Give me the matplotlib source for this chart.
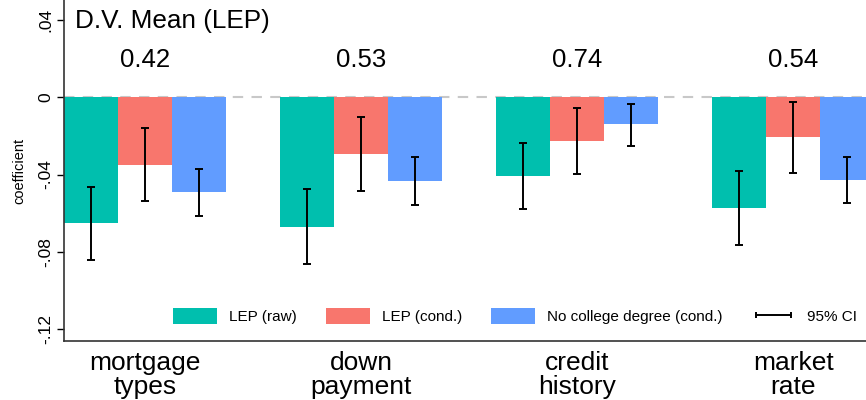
import matplotlib.pyplot as plt
from matplotlib.lines import Line2D
from matplotlib.patches import Patch
import numpy as np

plt.rcParams['font.family'] = ['Liberation Sans', 'DejaVu Sans']

# outcomes and series
outcomes = ['mortgage\ntypes', 'down\npayment', 'credit\nhistory', 'market\nrate']
dv_means = ['0.42', '0.53', '0.74', '0.54']
series = ['LEP (raw)', 'LEP (cond.)', 'No college degree (cond.)']
colors = ['#00BFAE', '#F8766D', '#619CFF']

# point estimates
lep_raw = [-0.0649, -0.0670, -0.0407, -0.0573]
lep_cond = [-0.0348, -0.0293, -0.0225, -0.0206]
nocollege_cond = [-0.0488, -0.0431, -0.0139, -0.0428]

# 95% CI bounds
lep_raw_lo = [-0.0842, -0.0862, -0.0578, -0.0765]
lep_raw_hi = [-0.0462, -0.0476, -0.0234, -0.0381]
lep_cond_lo = [-0.0535, -0.0483, -0.0395, -0.0390]
lep_cond_hi = [-0.0161, -0.0104, -0.0057, -0.0023]
nocollege_lo = [-0.0613, -0.0557, -0.0251, -0.0549]
nocollege_hi = [-0.0369, -0.0310, -0.0033, -0.0308]

coefs = [lep_raw, lep_cond, nocollege_cond]
los = [lep_raw_lo, lep_cond_lo, nocollege_lo]
his = [lep_raw_hi, lep_cond_hi, nocollege_hi]

fig = plt.figure(figsize=(8.66, 4.0), dpi=100)
ax = fig.add_axes([0.0739, 0.1475, 0.9261, 0.8525])

groups = np.arange(len(outcomes)) * 4
ax.axhline(0, color='#c8c8c8', lw=1.5, ls=(0, (5, 4)), zorder=0)

for j in range(3):
    x = groups + 0.5 + j
    ax.bar(x, coefs[j], width=1.0, color=colors[j], zorder=2)
    lo = np.array(los[j])
    hi = np.array(his[j])
    mid = (lo + hi) / 2
    ax.errorbar(x, mid, yerr=(hi - lo) / 2, fmt='none', ecolor='black',
                elinewidth=1.4, capsize=2.8, capthick=1.4, zorder=3)

for g, m in zip(groups, dv_means):
    ax.text(g + 1.5, 0.0192, m, ha='center', va='center', fontsize=18.5)

ax.text(0.2, 0.0395, 'D.V. Mean (LEP)', ha='left', va='center', fontsize=18.8)

ax.set_xlim(0, 14.85)
ax.set_ylim(-0.1262, 0.0504)
ax.set_xticks(groups + 1.5)
ax.set_xticklabels(outcomes, fontsize=19, linespacing=1.0)
ax.tick_params(axis='x', length=0, pad=7)

yt = [0.04, 0, -0.04, -0.08, -0.12]
ax.set_yticks(yt)
ax.set_yticklabels(['.04', '0', '-.04', '-.08', '-.12'], rotation=90,
                   va='center', fontsize=12.5)
ax.tick_params(axis='y', length=5, width=1, pad=3)
ax.set_ylabel('coefficient', fontsize=10.5, labelpad=8)

for s in ['top', 'right']:
    ax.spines[s].set_visible(False)
for s in ['left', 'bottom']:
    ax.spines[s].set_color('#333333')
    ax.spines[s].set_linewidth(1.2)

handles = [Patch(facecolor=c) for c in colors]
handles.append(Line2D([0, 1], [0, 0], color='black', lw=1.4, marker='|',
                      markersize=5, markeredgewidth=1.4))
ax.legend(handles, series + ['95% CI'], ncol=4, loc='center left',
          bbox_to_anchor=(0.119, 0.073), frameon=False, fontsize=11,
          handlelength=2.88, handleheight=1.24, columnspacing=1.9,
          handletextpad=0.78, numpoints=2)

fig.savefig('out.png', dpi=100)
